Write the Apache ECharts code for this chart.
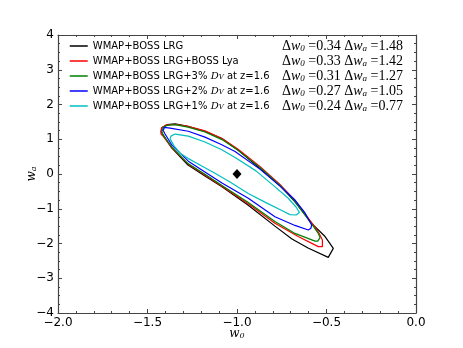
<!DOCTYPE html>
<html>
<head>
<meta charset="utf-8">
<script src="https://cdn.jsdelivr.net/npm/echarts@6/dist/echarts.min.js"></script>
<style>
  html, body { margin: 0; padding: 0; background: #fff; }
  #main { width: 463px; height: 348px; }
</style>
</head>
<body>
<div id="main"></div>
<script>
// contour names, colours and the quoted errors
const names = [
  'WMAP+BOSS LRG',
  'WMAP+BOSS LRG+BOSS Lya',
  'WMAP+BOSS LRG+3% D_V at z=1.6',
  'WMAP+BOSS LRG+2% D_V at z=1.6',
  'WMAP+BOSS LRG+1% D_V at z=1.6'
]
const colors = ['#000000', '#ff0000', '#008000', '#0000ff', '#00bfbf']
const dW0 = ['0.34', '0.33', '0.31', '0.27', '0.24']
const dWa = ['1.48', '1.42', '1.27', '1.05', '0.77']

// [w0, wa] outlines
const black = [[-1.425,1.21],[-1.419,1.34],[-1.391,1.42],[-1.346,1.44],[-1.274,1.37],[-1.179,1.23],[-1.084,1.02],[-0.994,0.69],[-0.872,0.16],[-0.760,-0.33],[-0.676,-0.80],[-0.583,-1.42],[-0.508,-1.80],[-0.462,-2.14],[-0.456,-2.19],[-0.490,-2.40],[-0.603,-2.13],[-0.693,-1.87],[-0.788,-1.50],[-0.939,-0.89],[-1.084,-0.37],[-1.179,-0.06],[-1.274,0.26],[-1.365,0.75],[-1.419,1.18]]
const red = [[-1.425,1.15],[-1.422,1.32],[-1.397,1.41],[-1.346,1.43],[-1.274,1.37],[-1.179,1.24],[-1.084,1.02],[-0.994,0.71],[-0.872,0.22],[-0.760,-0.30],[-0.676,-0.76],[-0.583,-1.40],[-0.542,-1.70],[-0.523,-1.90],[-0.523,-2.09],[-0.546,-2.09],[-0.658,-1.80],[-0.788,-1.42],[-0.939,-0.85],[-1.084,-0.35],[-1.179,-0.03],[-1.274,0.29],[-1.365,0.76],[-1.413,1.09]]
const green = [[-1.419,1.21],[-1.413,1.34],[-1.391,1.40],[-1.346,1.42],[-1.274,1.35],[-1.179,1.21],[-1.084,0.99],[-0.994,0.68],[-0.872,0.19],[-0.760,-0.33],[-0.676,-0.79],[-0.587,-1.41],[-0.547,-1.70],[-0.536,-1.83],[-0.549,-1.93],[-0.564,-1.93],[-0.676,-1.71],[-0.788,-1.37],[-0.939,-0.81],[-1.084,-0.33],[-1.179,-0.01],[-1.274,0.30],[-1.365,0.78],[-1.413,1.12]]
const blue = [[-1.412,1.25],[-1.406,1.34],[-1.374,1.32],[-1.272,1.23],[-1.179,1.06],[-1.085,0.84],[-1.011,0.65],[-0.872,0.14],[-0.760,-0.35],[-0.676,-0.75],[-0.620,-1.12],[-0.583,-1.47],[-0.587,-1.56],[-0.602,-1.61],[-0.676,-1.48],[-0.788,-1.23],[-0.937,-0.70],[-1.084,-0.26],[-1.179,0.06],[-1.272,0.37],[-1.365,0.84],[-1.402,1.15]]
const cyan = [[-1.374,1.01],[-1.369,1.09],[-1.346,1.15],[-1.272,1.09],[-1.179,0.92],[-1.085,0.70],[-1.006,0.46],[-0.894,0.09],[-0.799,-0.32],[-0.715,-0.69],[-0.670,-0.95],[-0.651,-1.11],[-0.670,-1.18],[-0.704,-1.17],[-0.750,-1.05],[-0.844,-0.81],[-0.937,-0.56],[-1.039,-0.23],[-1.123,0.02],[-1.207,0.26],[-1.274,0.45],[-1.318,0.60],[-1.352,0.81]]
const fiducial = [[-1.0, 0.0]]

const contours = [black, red, green, blue, cyan]

const minus = v => String(v).replace('-', '\u2212')
const frame = '#444'

const chart = echarts.init(document.getElementById('main'))

const mathRich = {
  n: { fontFamily: 'DejaVu Serif', fontSize: 12, color: '#000' },
  i: { fontFamily: 'DejaVu Serif', fontStyle: 'italic', fontSize: 12, color: '#000' },
  s: { fontFamily: 'DejaVu Serif', fontStyle: 'italic', fontSize: 8, color: '#000', verticalAlign: 'bottom' }
}

function axisCommon(pos) {
  return {
    position: pos,
    axisLine: { show: true, onZero: false, lineStyle: { color: frame, width: 1.2 } },
    axisTick: { show: true, inside: true, length: 4, lineStyle: { color: frame } },
    splitLine: { show: false },
    minorSplitLine: { show: false }
  }
}

const series = contours.map((pts, k) => ({
  name: names[k],
  type: 'line',
  symbol: 'none',
  data: pts.concat([pts[0]]),
  lineStyle: { color: colors[k], width: 1.2 },
  itemStyle: { color: colors[k] }
}))
series.push({
  name: 'fiducial',
  type: 'scatter',
  symbol: 'diamond',
  symbolSize: [9, 10],
  itemStyle: { color: '#000', opacity: 1 },
  data: fiducial
})

const rowTop = [39, 54, 69, 84, 99]

const option = {
  animation: false,
  grid: { left: 58, right: 47, top: 35, bottom: 35, outerBoundsMode: 'none' },
  legend: {
    data: names,
    orient: 'vertical',
    left: 69,
    top: 41,
    padding: 0,
    itemWidth: 18,
    itemHeight: 11,
    itemGap: 5,
    itemStyle: { opacity: 0 },
    lineStyle: { width: 1.5 },
    formatter: name => name.replace('D_V', '{i|D}{s|V}'),
    textStyle: {
      fontFamily: 'DejaVu Sans',
      fontSize: 10,
      color: '#000',
      rich: {
        i: { fontFamily: 'DejaVu Serif', fontStyle: 'italic', fontSize: 10 },
        s: { fontFamily: 'DejaVu Serif', fontStyle: 'italic', fontSize: 7, verticalAlign: 'bottom' }
      }
    }
  },
  xAxis: [
    Object.assign(axisCommon('bottom'), {
      type: 'value', min: -2, max: 0, interval: 0.5,
      minorTick: { show: true, splitNumber: 5, length: 2, lineStyle: { color: frame } },
      axisLabel: { formatter: v => minus(v.toFixed(1)), color: '#000', fontSize: 12, fontFamily: 'DejaVu Sans', margin: 4 },
      name: '{i|w}{s|0}',
      nameLocation: 'middle',
      nameGap: 15,
      nameMoveOverlap: false,
      nameTextStyle: { rich: mathRich }
    }),
    Object.assign(axisCommon('top'), {
      type: 'value', min: -2, max: 0, interval: 0.5,
      minorTick: { show: true, splitNumber: 5, length: 2, lineStyle: { color: frame } },
      axisLabel: { show: false }
    })
  ],
  yAxis: [
    Object.assign(axisCommon('left'), {
      type: 'value', min: -4, max: 4, interval: 1,
      minorTick: { show: true, splitNumber: 4, length: 2, lineStyle: { color: frame } },
      axisLabel: { formatter: v => minus(v), color: '#000', fontSize: 12, fontFamily: 'DejaVu Sans', margin: 4 },
      name: '{i|w}{s|a}',
      nameLocation: 'middle',
      nameGap: 20,
      nameMoveOverlap: false,
      nameTextStyle: { rich: mathRich }
    }),
    Object.assign(axisCommon('right'), {
      type: 'value', min: -4, max: 4, interval: 1,
      minorTick: { show: true, splitNumber: 4, length: 2, lineStyle: { color: frame } },
      axisLabel: { show: false }
    })
  ],
  graphic: dW0.map((v, k) => ({
    type: 'text',
    right: 60,
    top: rowTop[k],
    style: {
      text: '{n|\u0394}{i|w}{s|0}{n| =' + v + ' \u0394}{i|w}{s|a}{n| =' + dWa[k] + '}',
      rich: {
        n: { fontFamily: 'Liberation Serif', fontSize: 14, fill: '#000' },
        i: { fontFamily: 'Liberation Serif', fontStyle: 'italic', fontSize: 14, fill: '#000' },
        s: { fontFamily: 'Liberation Serif', fontStyle: 'italic', fontSize: 9, fill: '#000', verticalAlign: 'bottom' }
      }
    }
  })),
  series: series
}

chart.setOption(option)
</script>
</body>
</html>
